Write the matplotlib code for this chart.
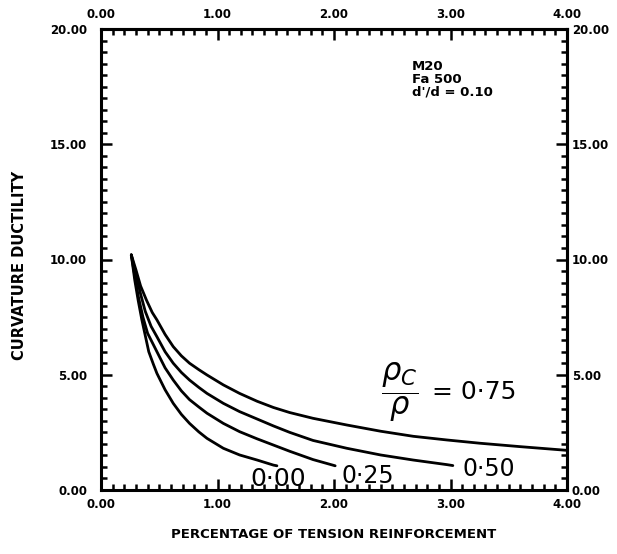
import numpy as np
import matplotlib
matplotlib.use("Agg")
import matplotlib.pyplot as plt
from matplotlib.ticker import FixedLocator, MultipleLocator, FormatStrFormatter

# ratio rho_c / rho = 0.75
x075 = [0.26, 0.30, 0.34, 0.39, 0.44, 0.48, 0.55, 0.62, 0.69, 0.76, 0.84, 0.91, 1.05, 1.19,
        1.34, 1.48, 1.62, 1.82, 2.11, 2.40, 2.68, 2.97, 3.25, 3.60, 4.00]
y075 = [10.2, 9.55, 8.85, 8.24, 7.70, 7.38, 6.75, 6.22, 5.82, 5.50, 5.22, 4.99, 4.56, 4.19,
        3.85, 3.58, 3.36, 3.11, 2.82, 2.55, 2.33, 2.17, 2.03, 1.88, 1.72]

# 0.50
x050 = [0.26, 0.30, 0.34, 0.38, 0.43, 0.48, 0.55, 0.62, 0.69, 0.76, 0.84, 0.91, 1.05, 1.19,
        1.34, 1.48, 1.62, 1.82, 2.11, 2.40, 2.68, 2.97, 3.02]
y050 = [10.2, 9.35, 8.5, 7.75, 7.1, 6.65, 6.0, 5.50, 5.10, 4.77, 4.45, 4.19, 3.76, 3.40,
        3.08, 2.78, 2.50, 2.15, 1.81, 1.52, 1.30, 1.10, 1.06]

# 0.25
x025 = [0.26, 0.29, 0.32, 0.36, 0.40, 0.44, 0.48, 0.55, 0.62, 0.69, 0.76, 0.84, 0.91, 1.05,
        1.19, 1.34, 1.48, 1.62, 1.82, 2.01]
y025 = [10.2, 9.3, 8.4, 7.5, 6.8, 6.4, 6.0, 5.3, 4.77, 4.30, 3.92, 3.60, 3.33, 2.89,
        2.53, 2.22, 1.95, 1.68, 1.32, 1.05]

# 0.00
x000 = [0.26, 0.29, 0.32, 0.35, 0.38, 0.41, 0.45, 0.48, 0.55, 0.62, 0.69, 0.76, 0.84, 0.91,
        1.05, 1.19, 1.34, 1.48, 1.51]
y000 = [10.2, 9.1, 8.2, 7.4, 6.7, 6.0, 5.45, 5.06, 4.35, 3.76, 3.28, 2.89, 2.52, 2.24,
        1.81, 1.52, 1.30, 1.08, 1.05]

xticks = [0.0, 1.0, 2.0, 3.0, 4.0]
yticks = [0.0, 5.0, 10.0, 15.0, 20.0]

fig = plt.figure(figsize=(6.17, 5.54), dpi=100)
ax = fig.add_axes([101 / 617, 1 - 490 / 554, 466 / 617, 461 / 554])

for xs, ys in [(x075, y075), (x050, y050), (x025, y025), (x000, y000)]:
    ax.plot(xs, ys, color='black', lw=2.0, solid_capstyle='round')

ax.set_xlim(0, 4)
ax.set_ylim(0, 20)


def style_axis(axis, ticks, minor):
    axis.set_major_locator(FixedLocator(ticks))
    axis.set_minor_locator(MultipleLocator(minor))
    axis.set_major_formatter(FormatStrFormatter('%.2f'))


style_axis(ax.xaxis, xticks, 0.1)
style_axis(ax.yaxis, yticks, 0.5)
for s in ax.spines.values():
    s.set_linewidth(2.2)
ax.tick_params(which='both', direction='in', width=1.8,
               top=True, right=True, labeltop=False, labelright=False)
ax.tick_params(which='major', length=8)
ax.tick_params(which='minor', length=4.5)
ax.tick_params(axis='x', which='major', pad=5.5)
ax.tick_params(axis='y', which='major', pad=10)

# top and right labels, own padding
top = ax.secondary_xaxis('top')
style_axis(top.xaxis, xticks, 0.1)
top.tick_params(which='both', direction='in', length=0, pad=6)
right = ax.secondary_yaxis('right')
style_axis(right.yaxis, yticks, 0.5)
right.tick_params(which='both', direction='in', length=0, pad=3.5)
for a in (top, right):
    for s in a.spines.values():
        s.set_linewidth(2.2)

for a in (ax, top, right):
    for lab in a.get_xticklabels() + a.get_yticklabels():
        lab.set_fontweight('bold')
        lab.set_fontsize(8.5)

# material text
ax.text(2.67, 18.65, "M20\nFa 500\nd'/d = 0.10", fontsize=9.5, fontweight='bold',
        va='top', ha='left', linespacing=0.95)

# curve labels
ax.text(1.52, 0.48, "0·00", fontsize=18, ha='center', va='center')
ax.text(2.29, 0.61, "0·25", fontsize=17, ha='center', va='center')
ax.text(3.33, 0.91, "0·50", fontsize=17, ha='center', va='center')
ax.text(2.40, 4.25, r"$\dfrac{\rho_C}{\rho}$", fontsize=22, ha='left', va='center')
ax.text(2.84, 4.25, "= 0·75", fontsize=18, ha='left', va='center')

fig.text(20 / 617, 1 - 265 / 554, "CURVATURE DUCTILITY", rotation=90,
         fontsize=10.5, fontweight='bold', ha='center', va='center')
fig.text(334 / 617, 1 - 535 / 554, "PERCENTAGE OF TENSION REINFORCEMENT",
         fontsize=9.5, fontweight='bold', ha='center', va='center')

fig.savefig("out.png", dpi=100)
